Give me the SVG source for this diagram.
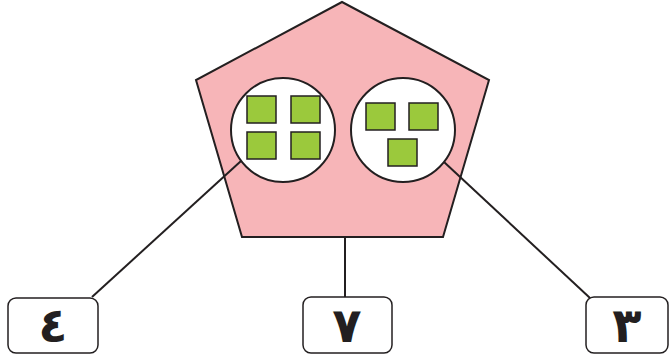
<svg xmlns="http://www.w3.org/2000/svg" width="670" height="361" viewBox="0 0 670 361">
<style>
.ln{stroke:#231f20;stroke-width:2;fill:none}
.circ{fill:#fff;stroke:#231f20;stroke-width:2}
.sq{fill:#9bc93c;stroke:#231f20;stroke-width:1.5}
.box{fill:#fff;stroke:#231f20;stroke-width:1.5}
.num{font-family:"DejaVu Sans",sans-serif;font-weight:bold;font-size:48px;fill:#231f20;text-anchor:middle}
</style>
<rect width="670" height="361" fill="#fff"/>
<g id="pentagon">
<polygon points="342,2 489,80 443,237 242,237 196,80" fill="#f7b5b8" stroke="#231f20" stroke-width="2"/>
</g>
<g id="connectors">
<line class="ln" x1="241" y1="161" x2="92" y2="297"/>
<line class="ln" x1="345" y1="237" x2="345" y2="297"/>
<line class="ln" x1="444" y1="162" x2="590" y2="298"/>
</g>
<g id="circle-left">
<circle class="circ" cx="283" cy="130" r="52"/>
<rect class="sq" x="247" y="96" width="29" height="27"/>
<rect class="sq" x="291" y="96" width="29" height="27"/>
<rect class="sq" x="247" y="132" width="29" height="27"/>
<rect class="sq" x="291" y="132" width="29" height="27"/>
</g>
<g id="circle-right">
<circle class="circ" cx="403" cy="130" r="52"/>
<rect class="sq" x="366" y="103" width="29" height="27"/>
<rect class="sq" x="409" y="103" width="29" height="27"/>
<rect class="sq" x="388" y="139" width="29" height="27"/>
</g>
<g id="box-left">
<rect class="box" x="8" y="298" width="90" height="55" rx="8"/>
<text class="num" x="53" y="342">٤</text>
</g>
<g id="box-middle">
<rect class="box" x="303" y="297" width="89" height="56" rx="8"/>
<text class="num" x="347" y="342">٧</text>
</g>
<g id="box-right">
<rect class="box" x="586" y="297" width="82" height="56" rx="8"/>
<text class="num" x="627" y="342">٣</text>
</g>
</svg>
